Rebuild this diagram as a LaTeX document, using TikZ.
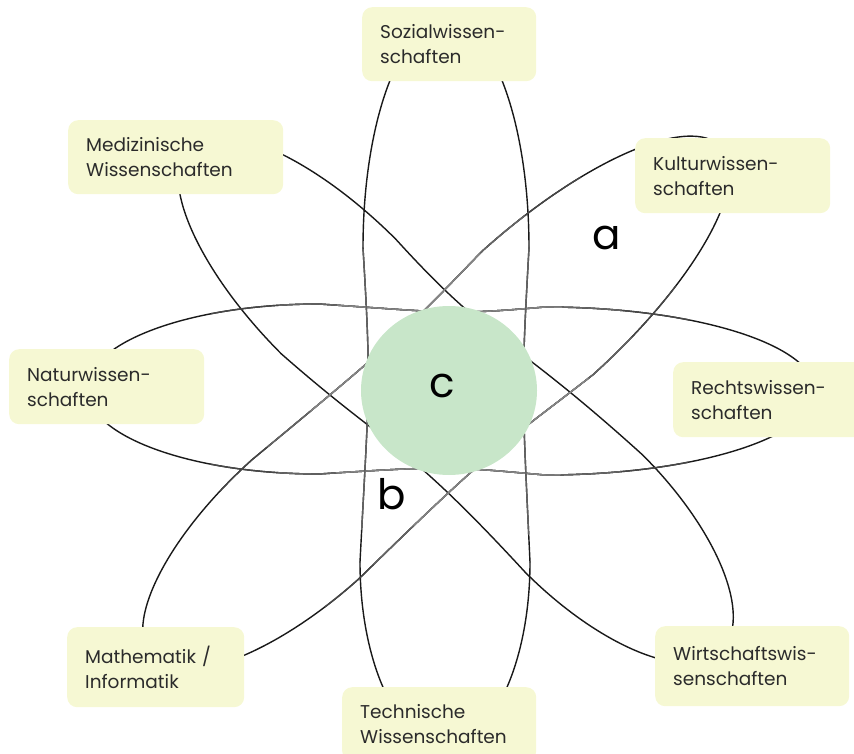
\documentclass[tikz,border=0pt]{standalone}
\usepackage{fontspec}
\setmainfont{Poppins}
\definecolor{boxfill}{HTML}{F6F8D3}
\definecolor{coregreen}{HTML}{C8E6C9}
\definecolor{inkgray}{HTML}{2B2B2B}

% one petal of an orbit: #1 name, #2 direction, #3 start of the rounded end,
% #4 length of the rounded end, #5 half width, #6 sideways offset
\newcommand\petalpts[6]{%
  \begin{scope}[shift={(449,390)}, rotate=#2]
    \coordinate (#1m)  at (#3, #6-#5);
    \coordinate (#1p)  at (#3, #6+#5);
    \coordinate (#1mc) at (0, 0.9*#6-0.9*#5);
    \coordinate (#1pc) at (0, 0.9*#6+0.9*#5);
  \end{scope}}
\newcommand\petalarc[6]{%
  \begin{scope}[shift={(449,390)}, rotate=#2]
    \draw[orbit] (#3, #6-#5) arc [start angle=-90, end angle=90, x radius=#4, y radius=#5];
  \end{scope}}

% the four orbits, each made of two petals joined behind the centre disc
\newcommand\orbitHor{%
  \petalarc{hr}{0}{96}{270}{84}{1}
  \petalarc{hl}{180}{130}{232}{85}{1}
  \draw[orbit] (hrp) .. controls (hrpc) and (hlmc) .. (hlm);
  \draw[orbit] (hrm) .. controls (hrmc) and (hlpc) .. (hlp);}
\newcommand\orbitVer{%
  \petalarc{vt}{90}{142}{227}{83}{-3}
  \petalarc{vb}{270}{172}{183}{85}{4}
  \draw[orbit] (vtp) .. controls (vtpc) and (vbmc) .. (vbm);
  \draw[orbit] (vtm) .. controls (vtmc) and (vbpc) .. (vbp);}
\newcommand\orbitMedWir{%
  \petalarc{dm}{135}{144}{212}{81}{-12}
  \petalarc{dw}{315}{183}{194}{83}{-8}
  \draw[orbit] (dmp) .. controls (dmpc) and (dwmc) .. (dwm);
  \draw[orbit] (dmm) .. controls (dmmc) and (dwpc) .. (dwp);}
\newcommand\orbitKulMat{%
  \petalarc{ak}{42}{117}{248}{83}{2}
  \petalarc{am}{222}{193}{207}{80}{0}
  \draw[orbit] (akp) .. controls (akpc) and (ammc) .. (amm);
  \draw[orbit] (akm) .. controls (akmc) and (ampc) .. (amp);}

\begin{document}
\begin{tikzpicture}[x=1pt,y=-1pt,
  orbit/.style={line width=1.4pt, draw=black!\orbitshade, line cap=round},
  field/.style={rectangle, rounded corners=10pt, fill=boxfill, anchor=north west,
    inner xsep=18pt, inner ysep=0pt, align=left, text=inkgray,
    font=\fontsize{18.5}{25}\selectfont},
  letter/.style={text=black, font=\fontsize{42}{42}\selectfont, inner sep=0pt}]
\def\orbitshade{90}

\clip (0,0) rectangle (854,754);

\petalpts{hr}{0}{96}{270}{84}{1}
\petalpts{hl}{180}{130}{232}{85}{1}
\petalpts{vt}{90}{142}{227}{83}{-3}
\petalpts{vb}{270}{172}{183}{85}{4}
\petalpts{dm}{135}{144}{212}{81}{-12}
\petalpts{dw}{315}{183}{194}{83}{-8}
\petalpts{ak}{42}{117}{248}{83}{2}
\petalpts{am}{222}{193}{207}{80}{0}

\orbitVer
\orbitMedWir
\orbitHor
\orbitKulMat

% strokes fade towards the centre
\foreach \r/\shade in {250/72, 190/60, 140/48} {
  \begin{scope}
    \def\orbitshade{\shade}
    \clip (449,390) circle [radius=\r pt];
    \orbitHor
    \orbitKulMat
  \end{scope}
}
\begin{scope}
  \def\orbitshade{62}
  \clip (449,390) circle [radius=165pt];
  \orbitVer
\end{scope}

% centre disc and the three markers
\fill[coregreen] (449,390.5) ellipse [x radius=88, y radius=84.5];
\node[letter] (cmark) at (442,386) {c};
\node[letter] (amark) at (607,238) {a};
\node[letter] (bmark) at (392,494) {b};

% discipline fields
\node[field, minimum width=174pt, minimum height=74pt, text width=138pt] (sozial) at (362,7) {Sozialwissen-\\schaften};
\node[field, minimum width=215pt, minimum height=74pt, text width=179pt] (medizin) at (68,120) {Medizinische\\Wissenschaften};
\node[field, minimum width=195pt, minimum height=75pt, text width=159pt] (kultur) at (635,138) {Kulturwissen-\\schaften};
\node[field, minimum width=195pt, minimum height=75pt, text width=159pt] (natur) at (9,349) {Naturwissen-\\schaften};
\node[field, minimum width=200pt, minimum height=75pt, text width=164pt] (recht) at (673,362) {Rechtswissen-\\schaften};
\node[field, minimum width=177pt, minimum height=80pt, text width=141pt] (mathe) at (67,627) {Mathematik /\\Informatik};
\node[field, minimum width=194pt, minimum height=74pt, text width=158pt] (technik) at (342,687) {Technische\\Wissenschaften};
\node[field, minimum width=194pt, minimum height=80pt, text width=158pt] (wirtschaft) at (655,626) {Wirtschaftswis-\\senschaften};

\end{tikzpicture}
\end{document}
